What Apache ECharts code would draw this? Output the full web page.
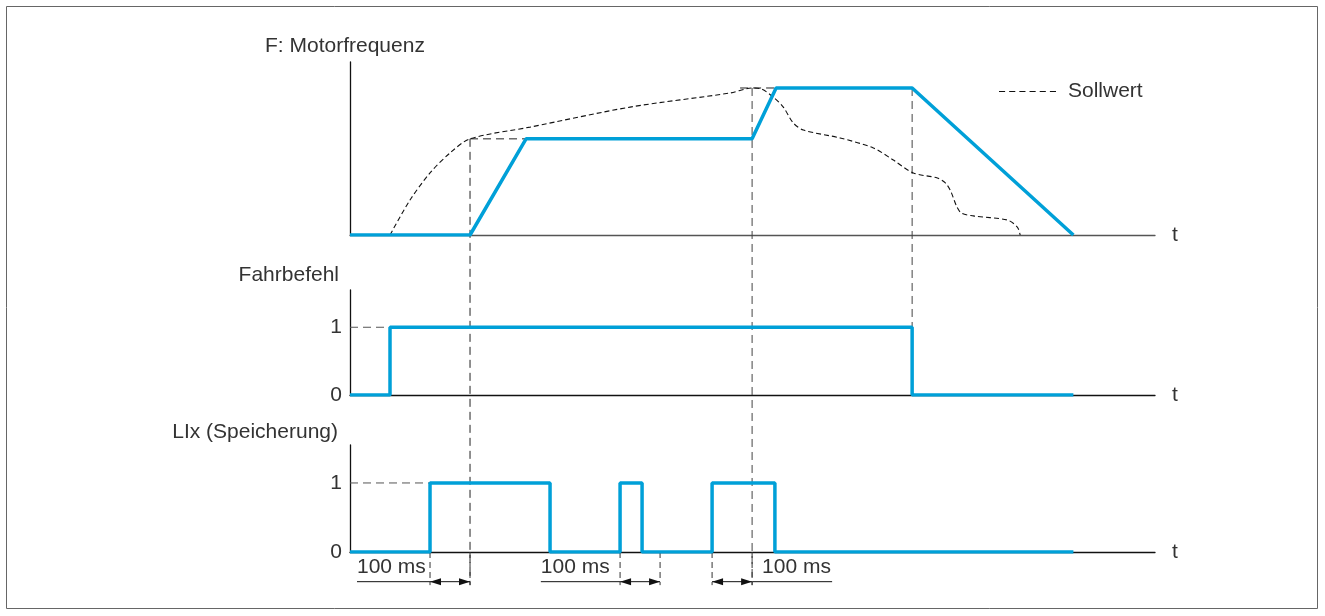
<!DOCTYPE html>
<html>
<head>
<meta charset="utf-8">
<script src="https://cdn.jsdelivr.net/npm/echarts@6/dist/echarts.min.js"></script>
<style>
html,body{margin:0;padding:0;background:#fff;}
#main{width:1325px;height:616px;}
</style>
</head>
<body>
<div id="main"></div>
<script>
// ---- data (time in ms, frequency in Hz, logic 0/1) ----
const xAxisMax = 2012;
const freqT  = [0, 300, 440, 1005, 1065, 1405, 1808];
const freqHz = [0, 0, 32.7, 32.7, 50, 50, 0];
const setpointT  = [100, 150, 200, 250, 300, 450, 700, 950, 1005, 1025, 1058, 1083, 1108, 1133, 1225, 1308, 1358, 1408, 1468, 1488, 1500, 1525, 1558, 1643, 1668, 1675];
const setpointHz = [0, 11.9, 21.1, 27.9, 32.7, 36.7, 43.5, 48.3, 50, 49.8, 46.9, 43.5, 38.1, 35.7, 33, 29.6, 25.5, 21.1, 19.4, 17.7, 15.3, 7.8, 6.5, 5.1, 2.7, 0];
const runT = [0, 100, 100, 1405, 1405, 1808];
const runV = [0, 0, 1, 1, 0, 0];
const liT = [0, 200, 200, 500, 500, 675, 675, 730, 730, 905, 905, 1062, 1062, 1808];
const liV = [0, 0, 1, 1, 0, 0, 1, 1, 0, 0, 1, 1, 0, 0];
const delayStarts = [200, 675, 905];   // 100 ms delay windows
const delayMs = 100;
const delayLabel = '100 ms';
const panelTitles = ['F: Motorfrequenz', 'Fahrbefehl', 'LIx (Speicherung)'];
const logicTicks = ['0', '1'];
const timeName = 't';
const setpointName = 'Sollwert';

const BLUE = '#00a0d8';
const FONT = "'Liberation Sans', Arial, sans-serif";
const FS = 21;
const TXT = '#333';

const zip = (a, b) => a.map((v, i) => [v, b[i]]);

const chart = echarts.init(document.getElementById('main'));

function xAx(i) {
  return {
    type: 'value', gridIndex: i, min: 0, max: xAxisMax,
    axisLine: {show: true, onZero: true, lineStyle: {color: i === 0 ? '#555' : '#111', width: 1.3}},
    axisTick: {show: false}, axisLabel: {show: false}, splitLine: {show: false},
    name: timeName, nameLocation: 'end', nameGap: 17,
    nameTextStyle: {fontFamily: FONT, fontSize: FS, color: TXT, verticalAlign: 'middle', padding: [4, 0, 0, 0]}
  };
}
function yAx(i, max, logic) {
  return {
    type: 'value', gridIndex: i, min: 0, max: max, interval: logic ? 1 : 50,
    axisLine: {show: true, lineStyle: {color: '#111', width: 1.3}},
    axisTick: {show: false}, splitLine: {show: false},
    axisLabel: logic ? {
      show: true, margin: 8, fontFamily: FONT, fontSize: FS, color: TXT, showMaxLabel: false,
      formatter: v => (v === 0 ? logicTicks[0] : (v === 1 ? logicTicks[1] : ''))
    } : {show: false}
  };
}

const dashIcon = 'path://M0,0h6v1h-6zM10,0h6v1h-6zM20,0h6v1h-6zM30,0h6v1h-6zM40,0h6v1h-6zM50,0h6v1h-6z';

const option = {
  animation: false,
  backgroundColor: '#fff',
  grid: [
    {left: 350, right: 170, top: 62, height: 173},
    {left: 350, right: 170, top: 290, height: 105},
    {left: 350, right: 170, top: 445, height: 107}
  ],
  xAxis: [xAx(0), xAx(1), xAx(2)],
  yAxis: [yAx(0, 58.84, false), yAx(1, 1.55, true), yAx(2, 1.55, true)],
  legend: {
    data: [{name: setpointName, icon: dashIcon}], left: 994, top: 76,
    itemWidth: 57, itemHeight: 1.2, symbolKeepAspect: false,
    itemStyle: {color: '#111', borderWidth: 0},
    textStyle: {fontFamily: FONT, fontSize: FS, color: TXT, padding: [0, 0, 0, 7]}
  },
  series: [
    {
      name: setpointName, type: 'line', xAxisIndex: 0, yAxisIndex: 0,
      data: zip(setpointT, setpointHz), showSymbol: false, symbol: 'none',
      smooth: 0.3,
      lineStyle: {color: '#111', width: 1.1, type: [5, 3]}, itemStyle: {color: '#111'}, z: 3
    },
    {
      name: 'F', type: 'line', xAxisIndex: 0, yAxisIndex: 0, data: zip(freqT, freqHz),
      showSymbol: false, symbol: 'none', lineStyle: {color: BLUE, width: 3.5}, z: 4
    },
    {
      name: 'Fahrbefehl', type: 'line', xAxisIndex: 1, yAxisIndex: 1, data: zip(runT, runV),
      showSymbol: false, symbol: 'none', lineStyle: {color: BLUE, width: 3.5}, z: 4
    },
    {
      name: 'LIx', type: 'line', xAxisIndex: 2, yAxisIndex: 2, data: zip(liT, liV),
      showSymbol: false, symbol: 'none', lineStyle: {color: BLUE, width: 3.5}, z: 4
    }
  ]
};
chart.setOption(option);

// ---- annotations placed through the axes' scales ----
const P = (g, x, y) => chart.convertToPixel({gridIndex: g}, [x, y]);
const gfx = [];
const dash = (a, b, color, pattern) => gfx.push({
  type: 'line', z: 2, silent: true,
  shape: {x1: a[0], y1: a[1], x2: b[0], y2: b[1]},
  style: {stroke: color || '#333', lineWidth: 1, lineDash: pattern || [8, 5]}
});
const solid = (a, b) => gfx.push({
  type: 'line', z: 2, silent: true,
  shape: {x1: a[0], y1: a[1], x2: b[0], y2: b[1]},
  style: {stroke: '#111', lineWidth: 1}
});
const head = (tip, dir) => gfx.push({
  type: 'polygon', z: 2, silent: true,
  shape: {points: [[tip[0], tip[1]], [tip[0] - dir * 11, tip[1] - 3.5], [tip[0] - dir * 11, tip[1] + 3.5]]},
  style: {fill: '#111'}
});
const text = (x, y, s, align) => gfx.push({
  type: 'text', z: 5, silent: true, x: x, y: y,
  style: {text: s, font: FS + 'px ' + FONT, fill: TXT, align: align || 'left', verticalAlign: 'middle'}
});

const belowY = -0.48, arrowY = -0.43, labelY = -0.22;

// long vertical guides
dash(P(0, 300, 32.7), P(2, 300, belowY), '#222');
dash(P(0, 1005, 50), P(2, 1005, belowY), '#444');
dash(P(0, 1405, 50), P(1, 1405, 1), '#444');
// horizontal guides
dash(P(0, 300, 32.7), P(0, 440, 32.7), '#222');
dash(P(0, 975, 50), P(0, 1065, 50), '#222');
dash(P(1, 0, 1), P(1, 100, 1), '#555');
dash(P(2, 0, 1), P(2, 200, 1), '#555');
// delay windows
const plainExt = [[17.5, 200], [477, 675], [1005, 1205]];
const labelX = [17.5, 477, 1030];
delayStarts.forEach((s, i) => {
  const e = s + delayMs;
  dash(P(2, s, 0), P(2, s, belowY), '#333', [6, 4]);
  dash(P(2, e, 0), P(2, e, belowY), '#333', [6, 4]);
  const a = P(2, s, arrowY), b = P(2, e, arrowY);
  solid(a, b);
  head(a, -1); head(b, 1);
  solid(P(2, plainExt[i][0], arrowY), P(2, plainExt[i][1], arrowY));
  const t = P(2, labelX[i], labelY);
  text(t[0], t[1], delayLabel);
});
// panel titles
const tp0 = P(0, 0, 58.84), tp1 = P(1, 0, 1.55), tp2 = P(2, 0, 1.55);
text(tp0[0] - 85, tp0[1] - 16, panelTitles[0]);
text(tp1[0] - 11, tp1[1] - 15, panelTitles[1], 'right');
text(tp2[0] - 12, tp2[1] - 13, panelTitles[2], 'right');
// frame
gfx.push({type: 'rect', z: 0, silent: true, shape: {x: 6.5, y: 6.5, width: 1311, height: 602},
  style: {fill: null, stroke: '#666', lineWidth: 1}});

chart.setOption({graphic: gfx});
</script>
</body>
</html>
